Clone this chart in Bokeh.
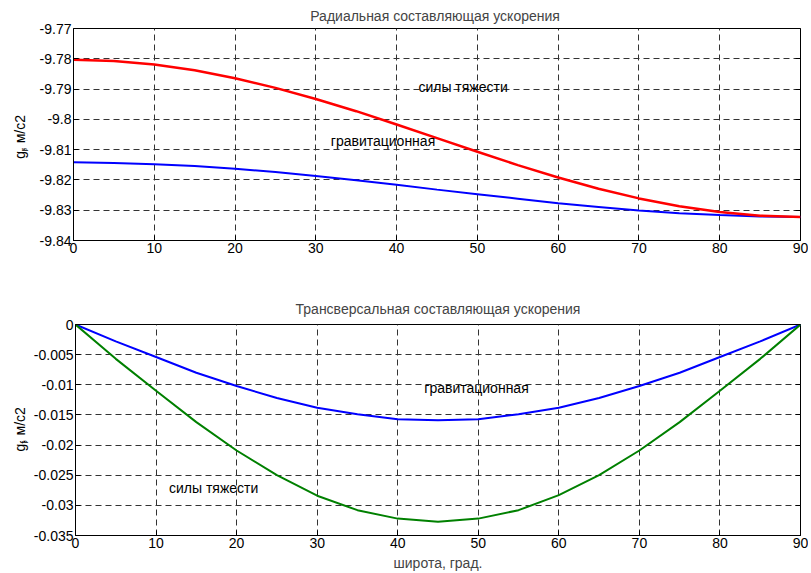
from math import pi
from bokeh.plotting import figure
from bokeh.layouts import column, row
from bokeh.models import Range1d, FixedTicker, CustomJSTickFormatter, Label, LinearAxis
from bokeh.core.properties import value
from bokeh.embed import file_html
from bokeh.resources import INLINE

# ---- data ----
lat = [0, 5, 10, 15, 20, 25, 30, 35, 40, 45, 50, 55, 60, 65, 70, 75, 80, 85, 90]
gr_gravity = [-9.7803, -9.7807, -9.7819, -9.7838, -9.7864, -9.7896, -9.7933, -9.7973, -9.8017, -9.8062,
              -9.8107, -9.8151, -9.8192, -9.8229, -9.8261, -9.8287, -9.8306, -9.8318, -9.8322]
gr_gravitational = [-9.8142, -9.8144, -9.8148, -9.8154, -9.8163, -9.8174, -9.8187, -9.8201, -9.8216, -9.8232,
                    -9.8247, -9.8262, -9.8277, -9.8289, -9.8301, -9.8310, -9.8316, -9.8321, -9.8322]
gt_gravitational = [0, -0.0028, -0.0054, -0.0080, -0.0102, -0.0122, -0.0138, -0.0149, -0.0157, -0.0159,
                    -0.0157, -0.0149, -0.0138, -0.0122, -0.0102, -0.0080, -0.0054, -0.0028, 0]
gt_gravity = [0, -0.0057, -0.0110, -0.0162, -0.0209, -0.0250, -0.0284, -0.0308, -0.0322, -0.0327,
              -0.0322, -0.0308, -0.0283, -0.0250, -0.0209, -0.0162, -0.0110, -0.0057, 0]
x_ticks = [0, 10, 20, 30, 40, 50, 60, 70, 80, 90]
y_ticks_top = [-9.84, -9.83, -9.82, -9.81, -9.8, -9.79, -9.78, -9.77]
y_ticks_bot = [-0.035, -0.03, -0.025, -0.02, -0.015, -0.01, -0.005, 0]

title_top = "Радиальная составляющая  ускорения"
title_bot = "Трансверсальная составляющая ускорения"
xlabel = "широта, град."
ylabel_sub_top = "r"
ylabel_sub_bot = "f"

FONT = "Liberation Sans"
FS = "14px"
LW = 30  # width of the y-label strip


def box_axis(p, side, ticks):
    ax = LinearAxis(ticker=FixedTicker(ticks=ticks),
                    formatter=CustomJSTickFormatter(code="return '';"))
    ax.major_tick_in = 5
    ax.major_tick_out = 0
    ax.minor_tick_line_color = None
    ax.major_label_text_font_size = "0px"
    ax.major_label_standoff = 0
    ax.axis_line_color = None
    ax.major_tick_line_color = "black"
    p.add_layout(ax, side)


def make_fig(height, btop, bbot, yr, yticks, title, standoff):
    p = figure(width=808 - LW, height=height, output_backend="svg", toolbar_location=None,
               x_range=Range1d(0, 90), y_range=Range1d(*yr),
               min_border_left=73 - LW, min_border_right=8, min_border_top=btop, min_border_bottom=bbot,
               title=title)
    p.title.align = "center"
    p.title.vertical_align = "bottom"
    p.title.text_font = FONT
    p.title.text_font_size = FS
    p.title.text_font_style = "normal"
    p.title.standoff = standoff
    p.xaxis.ticker = FixedTicker(ticks=x_ticks)
    p.yaxis.ticker = FixedTicker(ticks=yticks)
    p.yaxis.formatter = CustomJSTickFormatter(code="return String(tick);")
    for ax in (p.xaxis[0], p.yaxis[0]):
        ax.major_tick_in = 5
        ax.major_tick_out = 0
        ax.minor_tick_line_color = None
        ax.major_label_text_font = FONT
        ax.major_label_text_font_size = FS
        ax.major_label_text_color = "black"
        ax.major_label_standoff = 2
        ax.axis_line_color = "black"
        ax.major_tick_line_color = "black"
    box_axis(p, "right", yticks)
    p.grid.grid_line_color = "#333333"
    p.grid.grid_line_dash = "6 4"
    p.grid.grid_line_width = 1
    p.outline_line_color = "black"
    p.outline_line_alpha = 1.0
    p.outline_line_width = 1
    return p


def label_strip(height, sub, yg):
    q = figure(width=LW, height=height, output_backend="svg", toolbar_location=None,
               title=None, x_range=Range1d(0, LW), y_range=Range1d(0, height),
               min_border=0, min_border_left=0, min_border_right=0, min_border_top=0, min_border_bottom=0,
               x_axis_location=None, y_axis_location=None)
    q.grid.visible = False
    q.outline_line_color = None
    common = dict(angle=pi / 2, text_font=value(FONT), text_baseline="middle",
                  text_align="center", text_color="black")
    q.text(x=[19.5], y=[yg], text=["g"], text_font_size=value(FS), **common)
    q.text(x=[23.5], y=[yg + 7], text=[sub], text_font_size=value("10px"), **common)
    q.text(x=[19.5], y=[yg + 30], text=[", м/с2"], text_font_size=value(FS), **common)
    return q


def note(p, x, y, t):
    p.add_layout(Label(x=x, y=y, text=t, text_font=FONT, text_font_size=FS,
                       text_baseline="middle", text_align="left", text_color="black"))


H1, H2 = 290, 283

# ---- top ----
p1 = make_fig(H1, 27, 50, (-9.84, -9.77), y_ticks_top, title_top, 10)
p1.line(lat, gr_gravitational, line_color="#0000ff", line_width=2)
p1.line(lat, gr_gravity, line_color="#ff0000", line_width=2.5)
note(p1, 42.7, -9.7894, "силы тяжести")
note(p1, 31.85, -9.8071, "гравитационная")
q1 = label_strip(H1, ylabel_sub_top, H1 - 173)

# ---- bottom ----
p2 = make_fig(H2, 33, 37, (-0.035, 0), y_ticks_bot, title_bot, 16)
p2.line(lat, gt_gravitational, line_color="#0000ff", line_width=2)
p2.line(lat, gt_gravity, line_color="#008000", line_width=2)
note(p2, 43.3, -0.0106, "гравитационная")
note(p2, 11.6, -0.02705, "силы тяжести")
p2.xaxis.axis_label = xlabel
p2.xaxis.axis_label_text_font = FONT
p2.xaxis.axis_label_text_font_size = FS
p2.xaxis.axis_label_text_font_style = "normal"
p2.xaxis.axis_label_standoff = 4
q2 = label_strip(H2, ylabel_sub_bot, H1 + H2 - 455)

layout = column(row(q1, p1, spacing=0), row(q2, p2, spacing=0), spacing=0)
open("out.html", "w").write(file_html(layout, INLINE))
